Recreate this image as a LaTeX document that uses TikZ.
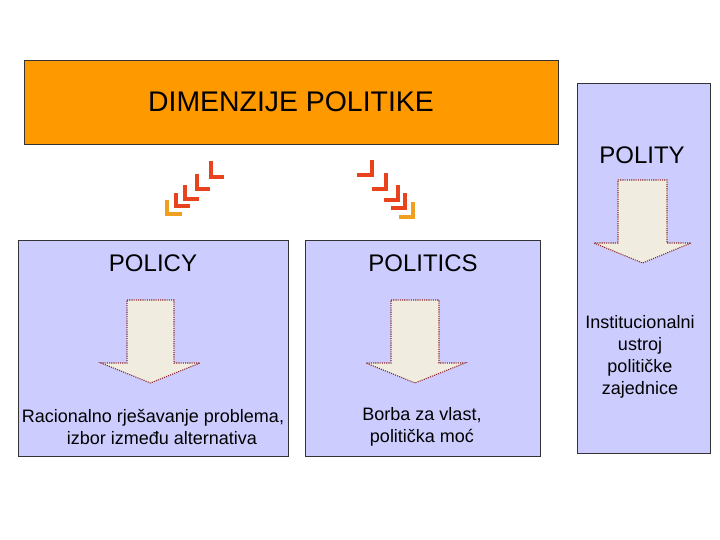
\documentclass[tikz,border=0pt]{standalone}
\usepackage{fontspec}
\setmainfont{Liberation Sans}
\definecolor{lav}{HTML}{CCCCFF}
\definecolor{orng}{HTML}{FF9900}
\definecolor{chevred}{HTML}{E8431C}
\definecolor{chevorg}{HTML}{F0A020}
\definecolor{arrfill}{HTML}{F0EDE0}
\definecolor{arrline}{HTML}{8B2A2A}
\tikzset{
  panel/.style={draw=black!80, line width=0.8pt, fill=lav},
  arrowshape/.style={fill=arrfill, draw=arrline, dash pattern=on 1.1pt off 1.1pt, line width=1.1pt},
  chev/.style={line width=4.2pt, line cap=butt, line join=miter},
  ttl/.style={font=\fontsize{24}{28}\selectfont, inner sep=0pt},
  body/.style={font=\fontsize{18}{22}\selectfont, align=center, inner sep=0pt},
}
\begin{document}
\begin{tikzpicture}[x=1pt,y=-1pt]
\useasboundingbox (0,0) rectangle (720,540);
% boxes
\node[draw=black!80, line width=0.8pt, fill=orng, minimum width=534pt, minimum height=84pt, inner sep=0pt] (dim) at (291,102) {};
\node[font=\fontsize{28.4}{32}\selectfont, inner sep=0pt] (dimt) at (291,102) {DIMENZIJE POLITIKE};
\node[panel, minimum width=133pt, minimum height=370pt, inner sep=0pt] (polity) at (643.5,268) {};
\node[panel, minimum width=270pt, minimum height=216pt, inner sep=0pt] (policy) at (153,348) {};
\node[panel, minimum width=235pt, minimum height=216pt, inner sep=0pt] (politics) at (422.5,348) {};
% titles
\node[ttl] (politytxt) at (642,155) {POLITY};
\node[ttl] (policytxt) at (153,263) {POLICY};
\node[ttl] (politicstxt) at (423,263) {POLITICS};
% arrows
\draw[arrowshape] (127,300) -- (174,300) -- (174,363) -- (200,363) -- (150.5,383) -- (101,363) -- (127,363) -- cycle;
\draw[arrowshape] (391,300) -- (439,300) -- (439,363) -- (465,363) -- (415,383) -- (366,363) -- (391,363) -- cycle;
\draw[arrowshape] (618,180) -- (667,180) -- (667,243) -- (691,243) -- (642.5,263) -- (594,243) -- (618,243) -- cycle;
% body texts
\node[body] (politybody) at (640,357) {Institucionalni\\ustroj\\političke\\zajednice};
\node[body] (policybody) at (153,427) {Racionalno rješavanje problema,\\\hspace*{18pt}izbor između alternativa};
\node[body] (politicsbody) at (422,427) {Borba za vlast,\\politička moć};
% chevrons left
\draw[chev, chevred] (211,161) -- (211,177) -- (224,177);
\draw[chev, chevred] (197,174) -- (197,189) -- (210,189);
\draw[chev, chevred] (185,185) -- (185,199) -- (199,199);
\draw[chev, chevred] (176,193) -- (176,206) -- (190,206);
\draw[chev, chevorg] (167,200) -- (167,214) -- (182,214);
% chevrons right
\draw[chev, chevred] (372,160) -- (372,175) -- (357,175);
\draw[chev, chevred] (386,173) -- (386,189) -- (372,189);
\draw[chev, chevred] (398,185) -- (398,200) -- (384,200);
\draw[chev, chevred] (405,193) -- (405,208) -- (391,208);
\draw[chev, chevorg] (413,202) -- (413,217) -- (399,217);
\end{tikzpicture}
\end{document}
